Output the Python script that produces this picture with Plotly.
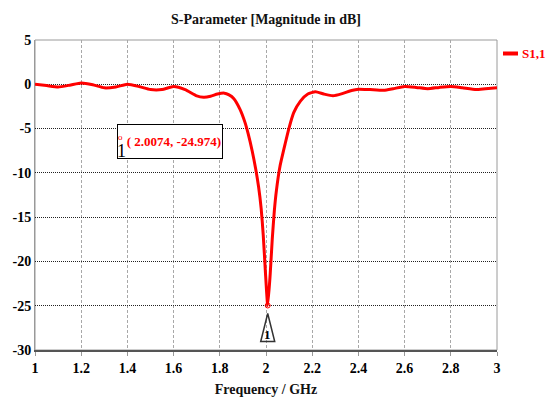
import plotly.graph_objects as go

# S11 magnitude sweep (GHz, dB)
freq_ghz = [1.00, 1.05, 1.10, 1.15, 1.20, 1.25, 1.30, 1.35, 1.40, 1.45, 1.50, 1.55,
            1.60, 1.65, 1.70, 1.73, 1.76, 1.79, 1.82, 1.84, 1.86, 1.887, 1.909, 1.923,
            1.94, 1.955, 1.968, 1.979, 1.988, 1.997, 2.0074, 2.018, 2.027, 2.036, 2.045,
            2.061, 2.084, 2.099, 2.12, 2.149, 2.181, 2.214, 2.25, 2.29, 2.33, 2.37,
            2.40, 2.45, 2.51, 2.55, 2.60, 2.65, 2.70, 2.75, 2.80, 2.85, 2.91, 2.95, 3.00]
s11_db = [0.0, -0.15, -0.3, -0.1, 0.15, -0.05, -0.4, -0.3, 0.0, -0.25, -0.6, -0.6,
          -0.25, -0.6, -1.3, -1.45, -1.35, -1.1, -1.0, -1.2, -1.6, -2.8, -4.3, -5.6,
          -7.5, -9.5, -11.6, -14.0, -17.0, -21.0, -24.974, -21.5, -17.5, -14.3, -12.0,
          -9.2, -6.6, -5.0, -3.2, -1.9, -1.1, -0.85, -1.1, -1.3, -1.05, -0.7,
          -0.55, -0.6, -0.68, -0.5, -0.25, -0.35, -0.5, -0.35, -0.25, -0.4, -0.6, -0.5, -0.4]

# marker 1 (resonance)
marker_f = 2.0074
marker_db = -24.974

x_ticks = [1, 1.2, 1.4, 1.6, 1.8, 2, 2.2, 2.4, 2.6, 2.8, 3]
x_tick_labels = ["1", "1.2", "1.4", "1.6", "1.8", "2", "2.2", "2.4", "2.6", "2.8", "3"]
y_ticks = [5, 0, -5, -10, -15, -20, -25, -30]
y_tick_labels = ["5", "0", "-5", "-10", "-15", "-20", "-25", "-30"]

RED = "#ff0000"
SERIF = "Liberation Serif, Times New Roman, serif"

# plot-area geometry in pixels (used to place paper-referenced items)
L, R, T, B = 35, 497, 40, 350


def px(xp):
    return (xp - L) / (R - L)


def py(yp):
    return (B - yp) / (B - T)


fig = go.Figure()
fig.add_trace(go.Scatter(
    x=freq_ghz, y=s11_db, mode="lines", name="S1,1",
    line=dict(color=RED, width=3, shape="spline", smoothing=0.5),
    showlegend=False, hoverinfo="x+y",
))
fig.add_trace(go.Scatter(
    x=[marker_f], y=[marker_db], mode="markers", showlegend=False,
    marker=dict(symbol="circle-open", size=5, color=RED, line=dict(width=1, color=RED)),
))

fig.update_layout(
    width=545, height=408,
    margin=dict(l=L, r=545 - R, t=T, b=408 - B),
    paper_bgcolor="white", plot_bgcolor="white",
    font=dict(family=SERIF, color="black"),
    title=dict(text="<b>S-Parameter [Magnitude in dB]</b>", x=(L + R) / 2 / 545, xanchor="center",
               y=1 - 19 / 408, yanchor="middle", font=dict(size=14, family=SERIF, color="#111")),
)

fig.update_xaxes(
    range=[1, 3], tickvals=x_ticks, ticktext=[f"<b>{t}</b>" for t in x_tick_labels],
    tickfont=dict(size=14, family=SERIF, color="black"),
    showgrid=True, gridcolor="#a8a8a8", gridwidth=1, griddash="3px,2px",
    showline=True, linecolor="#555555", linewidth=1.5,
    ticks="outside", ticklen=4, tickcolor="#999999",
    zeroline=False,
    title=dict(text="<b>Frequency / GHz</b>", font=dict(size=14, family=SERIF, color="#111"), standoff=10),
)
fig.update_yaxes(
    range=[-30, 5], tickvals=y_ticks, ticktext=[f"<b>{t}</b>" for t in y_tick_labels],
    tickfont=dict(size=14, family=SERIF, color="black"),
    showgrid=True, gridcolor="#222222", gridwidth=1, griddash="1px,1px",
    showline=True, linecolor="#999999", linewidth=1,
    ticks="", zeroline=False,
)

# grey plot frame (top / right)
fig.add_shape(type="rect", xref="paper", yref="paper", x0=0, x1=1, y0=0, y1=1,
              line=dict(color="#9a9a9a", width=1), layer="below")

# marker triangle under the resonance point
fig.add_shape(type="path", xref="x", yref="y", xsizemode="pixel", ysizemode="pixel",
              xanchor=marker_f, yanchor=marker_db,
              path="M0,-8 L-7,-36 L7,-36 Z", line=dict(color="#333333", width=1.5))
fig.add_annotation(x=marker_f, y=marker_db, xref="x", yref="y", text="<b>1</b>",
                   showarrow=False, yshift=-29, font=dict(size=13, family=SERIF, color="black"))

# marker readout box
fig.add_annotation(xref="paper", yref="paper", x=px(170), y=py(141.5), xanchor="center", yanchor="middle",
                   text=f"<b>( {marker_f:.4f}, {marker_db:.3f})</b>", showarrow=False,
                   font=dict(size=13, family=SERIF, color=RED),
                   width=102, height=31, align="right", valign="middle",
                   bordercolor="black", borderwidth=1, borderpad=1, bgcolor="white")
fig.add_annotation(xref="paper", yref="paper", x=px(121), y=py(151), xanchor="center", yanchor="middle",
                   text="1", showarrow=False, font=dict(size=18, family=SERIF, color="black"))
fig.add_annotation(xref="paper", yref="paper", x=px(120), y=py(136.5), xanchor="center", yanchor="middle",
                   text="o", showarrow=False, font=dict(size=9, family=SERIF, color=RED))

# legend entry
fig.add_shape(type="line", xref="paper", yref="paper", x0=px(503), x1=px(518),
              y0=py(53.5), y1=py(53.5), line=dict(color=RED, width=4))
fig.add_annotation(xref="paper", yref="paper", x=px(520), y=py(53.5), xanchor="left", yanchor="middle",
                   text="<b>S1,1</b>", showarrow=False,
                   font=dict(size=13, family=SERIF, color=RED))

fig.write_html("out.html")
